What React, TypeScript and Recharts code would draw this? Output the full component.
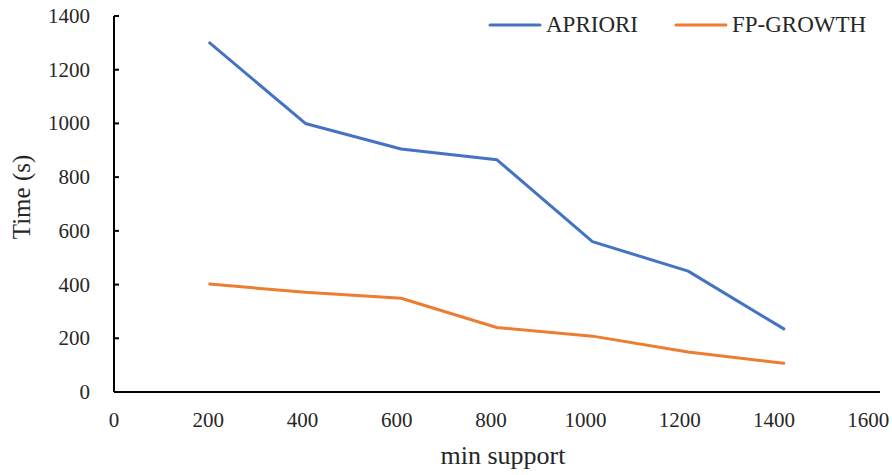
import { LineChart, Line, XAxis, YAxis, Legend } from 'recharts'

// min support values (x) and runtime in seconds for each algorithm
const minSupport = [203, 406, 609, 812, 1015, 1218, 1421]
const aprioriTime = [1300, 1000, 905, 865, 560, 450, 235]
const fpGrowthTime = [402, 371, 349, 240, 208, 149, 107]

const xTicks = [0, 200, 400, 600, 800, 1000, 1200, 1400, 1600]
const yTicks = [0, 200, 400, 600, 800, 1000, 1200, 1400]

const seriesInfo = [
  { key: 'apriori', name: 'APRIORI', color: '#4472C4' },
  { key: 'fpGrowth', name: 'FP-GROWTH', color: '#ED7D31' },
]

const chartData = minSupport.map((x, i) => ({
  x,
  apriori: aprioriTime[i],
  fpGrowth: fpGrowthTime[i],
}))

const FONT = '"Liberation Serif", "Times New Roman", serif'
const TEXT = '#262626'

// y ticks: label on the left, short tick mark pointing into the plot
const YTick = ({ x, y, payload }: any) => (
  <g>
    <line x1={x + 24} x2={x + 29} y1={y} y2={y} stroke="#000" strokeWidth={2} />
    <text x={x} y={y} dy={7} textAnchor="end" fill={TEXT} fontSize={21} fontFamily={FONT}>
      {payload.value}
    </text>
  </g>
)

const XTick = ({ x, y, payload }: any) => (
  <text x={x} y={y} dy={15} textAnchor="middle" fill={TEXT} fontSize={21} fontFamily={FONT}>
    {payload.value}
  </text>
)

const YTitle = ({ viewBox }: any) => {
  const cx = viewBox.x + 30
  const cy = viewBox.y + viewBox.height / 2 - 7
  return (
    <text
      x={cx}
      y={cy}
      transform={`rotate(-90, ${cx}, ${cy})`}
      textAnchor="middle"
      fill={TEXT}
      fontSize={25}
      fontFamily={FONT}
    >
      Time (s)
    </text>
  )
}

const XTitle = ({ viewBox }: any) => (
  <text
    x={viewBox.x + viewBox.width / 2 + 6}
    y={viewBox.y + 72}
    textAnchor="middle"
    fill={TEXT}
    fontSize={26}
    fontFamily={FONT}
  >
    min support
  </text>
)

const renderLegend = () => (
  <div
    style={{
      display: 'flex',
      alignItems: 'center',
      whiteSpace: 'nowrap',
      fontFamily: FONT,
      fontSize: 23,
      color: TEXT,
    }}
  >
    {seriesInfo.map((s) => (
      <div key={s.key} style={{ display: 'flex', alignItems: 'center', marginRight: 36 }}>
        <svg width={54} height={6}>
          <line x1={2} x2={52} y1={3} y2={3} stroke={s.color} strokeWidth={3} strokeLinecap="round" />
        </svg>
        <span style={{ marginLeft: 4 }}>{s.name}</span>
      </div>
    ))}
  </div>
)

export default function App() {
  return (
    <div style={{ width: 892, height: 475, background: '#fff' }}>
      <style>{'body{margin:0}'}</style>
      <LineChart
        width={892}
        height={475}
        data={chartData}
        margin={{ top: 16, right: 12, bottom: 0, left: 0 }}
      >
        <XAxis
          type="number"
          dataKey="x"
          domain={[0, 1625]}
          ticks={xTicks}
          interval={0}
          height={83}
          axisLine={{ stroke: '#000', strokeWidth: 2 }}
          tickLine={false}
          tickSize={0}
          tickMargin={20}
          tick={<XTick />}
          label={<XTitle />}
        />
        <YAxis
          type="number"
          domain={[0, 1400]}
          ticks={yTicks}
          interval={0}
          width={114}
          axisLine={{ stroke: '#000', strokeWidth: 2 }}
          tickLine={false}
          tickSize={0}
          tickMargin={24}
          tick={<YTick />}
          label={<YTitle />}
        />
        <Legend
          layout="horizontal"
          align="center"
          verticalAlign="middle"
          content={renderLegend}
          wrapperStyle={{ top: 12, left: 488, width: 404 }}
        />
        {seriesInfo.map((s) => (
          <Line
            key={s.key}
            type="linear"
            dataKey={s.key}
            name={s.name}
            stroke={s.color}
            strokeWidth={3}
            strokeLinecap="round"
            strokeLinejoin="round"
            dot={false}
            activeDot={false}
            isAnimationActive={false}
          />
        ))}
      </LineChart>
    </div>
  )
}
